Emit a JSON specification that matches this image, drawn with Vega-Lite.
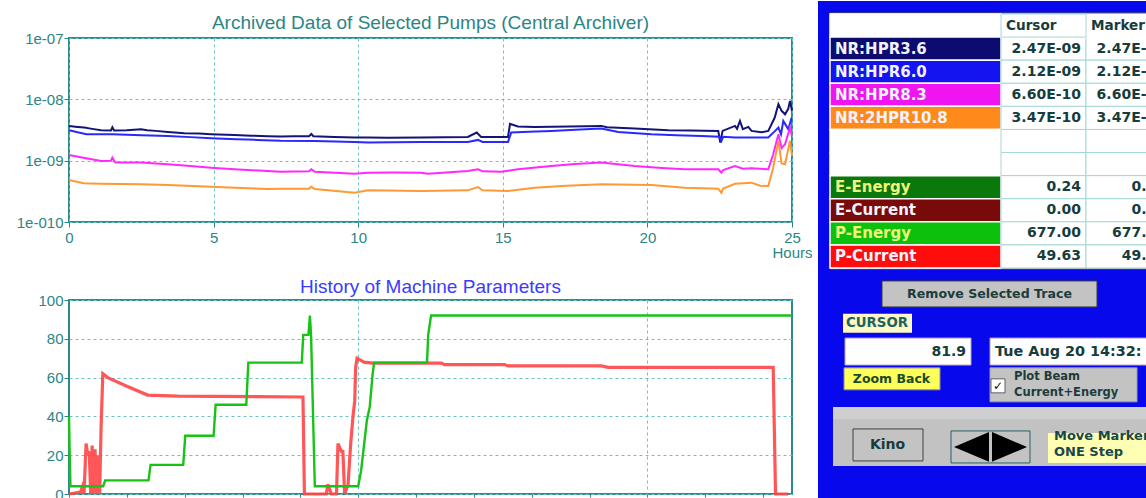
{
  "$schema": "https://vega.github.io/schema/vega-lite/v6.json",
  "padding": 0,
  "background": "#ffffff",
  "spacing": 4,
  "align": "none",
  "config": {
    "font": "Liberation Sans",
    "view": {"stroke": null},
    "axis": {"labelFont": "Liberation Sans", "labelFontSize": 15, "labelColor": "#2b8585", "tickColor": "#2b8585", "domain": false, "gridColor": "#6cc3c3", "gridDash": [3, 3], "gridWidth": 1, "labelOverlap": false, "labelSeparation": 0}
  },
  "datasets": {
    "pumps": [
      {"s":"NR:HPR3.6","h":0,"v":3.69e-9},{"s":"NR:HPR3.6","h":0.3,"v":3.55e-9},{"s":"NR:HPR3.6","h":0.53,"v":3.46e-9},{"s":"NR:HPR3.6","h":0.8,"v":3.3e-9},{"s":"NR:HPR3.6","h":1.11,"v":3.14e-9},{"s":"NR:HPR3.6","h":1.45,"v":3.1e-9},{"s":"NR:HPR3.6","h":1.5,"v":3.5e-9},{"s":"NR:HPR3.6","h":1.56,"v":3.1e-9},{"s":"NR:HPR3.6","h":2.0,"v":3.14e-9},{"s":"NR:HPR3.6","h":2.49,"v":3.26e-9},{"s":"NR:HPR3.6","h":2.7,"v":3.14e-9},{"s":"NR:HPR3.6","h":3.0,"v":3.06e-9},{"s":"NR:HPR3.6","h":3.42,"v":2.94e-9},{"s":"NR:HPR3.6","h":3.99,"v":2.8e-9},{"s":"NR:HPR3.6","h":4.5,"v":2.76e-9},{"s":"NR:HPR3.6","h":4.91,"v":2.7e-9},{"s":"NR:HPR3.6","h":5.72,"v":2.62e-9},{"s":"NR:HPR3.6","h":6.3,"v":2.56e-9},{"s":"NR:HPR3.6","h":6.88,"v":2.5e-9},{"s":"NR:HPR3.6","h":7.31,"v":2.47e-9},{"s":"NR:HPR3.6","h":7.8,"v":2.5e-9},{"s":"NR:HPR3.6","h":8.3,"v":2.5e-9},{"s":"NR:HPR3.6","h":8.38,"v":2.72e-9},{"s":"NR:HPR3.6","h":8.45,"v":2.5e-9},{"s":"NR:HPR3.6","h":9.18,"v":2.44e-9},{"s":"NR:HPR3.6","h":9.88,"v":2.38e-9},{"s":"NR:HPR3.6","h":10.34,"v":2.38e-9},{"s":"NR:HPR3.6","h":11.0,"v":2.36e-9},{"s":"NR:HPR3.6","h":12.18,"v":2.38e-9},{"s":"NR:HPR3.6","h":13.0,"v":2.4e-9},{"s":"NR:HPR3.6","h":13.79,"v":2.44e-9},{"s":"NR:HPR3.6","h":14.1,"v":2.87e-9},{"s":"NR:HPR3.6","h":14.25,"v":2.44e-9},{"s":"NR:HPR3.6","h":15.18,"v":2.44e-9},{"s":"NR:HPR3.6","h":15.25,"v":4.0e-9},{"s":"NR:HPR3.6","h":15.52,"v":3.6e-9},{"s":"NR:HPR3.6","h":16.1,"v":3.55e-9},{"s":"NR:HPR3.6","h":17.3,"v":3.6e-9},{"s":"NR:HPR3.6","h":18.41,"v":3.69e-9},{"s":"NR:HPR3.6","h":18.6,"v":3.5e-9},{"s":"NR:HPR3.6","h":19.56,"v":3.33e-9},{"s":"NR:HPR3.6","h":20.72,"v":3.14e-9},{"s":"NR:HPR3.6","h":21.5,"v":3.1e-9},{"s":"NR:HPR3.6","h":22.45,"v":3.06e-9},{"s":"NR:HPR3.6","h":22.52,"v":1.97e-9},{"s":"NR:HPR3.6","h":22.6,"v":3.06e-9},{"s":"NR:HPR3.6","h":23.03,"v":3.69e-9},{"s":"NR:HPR3.6","h":23.1,"v":3.3e-9},{"s":"NR:HPR3.6","h":23.2,"v":4.45e-9},{"s":"NR:HPR3.6","h":23.3,"v":3.26e-9},{"s":"NR:HPR3.6","h":23.49,"v":3.55e-9},{"s":"NR:HPR3.6","h":23.6,"v":3.06e-9},{"s":"NR:HPR3.6","h":23.95,"v":2.9e-9},{"s":"NR:HPR3.6","h":24.18,"v":3.06e-9},{"s":"NR:HPR3.6","h":24.4,"v":5.0e-9},{"s":"NR:HPR3.6","h":24.53,"v":8.35e-9},{"s":"NR:HPR3.6","h":24.64,"v":6.5e-9},{"s":"NR:HPR3.6","h":24.76,"v":5.7e-9},{"s":"NR:HPR3.6","h":24.87,"v":7.0e-9},{"s":"NR:HPR3.6","h":24.93,"v":9.45e-9},{"s":"NR:HPR3.6","h":25.0,"v":6.5e-9},
      {"s":"NR:HPR6.0","h":0,"v":3.14e-9},{"s":"NR:HPR6.0","h":0.3,"v":2.9e-9},{"s":"NR:HPR6.0","h":0.6,"v":2.7e-9},{"s":"NR:HPR6.0","h":1.5,"v":2.7e-9},{"s":"NR:HPR6.0","h":2.5,"v":2.6e-9},{"s":"NR:HPR6.0","h":3.42,"v":2.53e-9},{"s":"NR:HPR6.0","h":4.2,"v":2.42e-9},{"s":"NR:HPR6.0","h":4.91,"v":2.32e-9},{"s":"NR:HPR6.0","h":5.8,"v":2.24e-9},{"s":"NR:HPR6.0","h":6.5,"v":2.18e-9},{"s":"NR:HPR6.0","h":7.31,"v":2.12e-9},{"s":"NR:HPR6.0","h":8.5,"v":2.1e-9},{"s":"NR:HPR6.0","h":9.88,"v":2.02e-9},{"s":"NR:HPR6.0","h":10.34,"v":1.97e-9},{"s":"NR:HPR6.0","h":11.2,"v":2.0e-9},{"s":"NR:HPR6.0","h":12.18,"v":2.02e-9},{"s":"NR:HPR6.0","h":13.79,"v":2.02e-9},{"s":"NR:HPR6.0","h":14.14,"v":2.18e-9},{"s":"NR:HPR6.0","h":14.3,"v":2.02e-9},{"s":"NR:HPR6.0","h":15.18,"v":2.02e-9},{"s":"NR:HPR6.0","h":15.29,"v":2.87e-9},{"s":"NR:HPR6.0","h":15.9,"v":2.95e-9},{"s":"NR:HPR6.0","h":16.68,"v":3.06e-9},{"s":"NR:HPR6.0","h":17.5,"v":3.2e-9},{"s":"NR:HPR6.0","h":18.41,"v":3.33e-9},{"s":"NR:HPR6.0","h":18.99,"v":2.94e-9},{"s":"NR:HPR6.0","h":20.14,"v":2.7e-9},{"s":"NR:HPR6.0","h":21.0,"v":2.6e-9},{"s":"NR:HPR6.0","h":21.87,"v":2.53e-9},{"s":"NR:HPR6.0","h":22.5,"v":2.45e-9},{"s":"NR:HPR6.0","h":22.56,"v":2.1e-9},{"s":"NR:HPR6.0","h":22.62,"v":2.45e-9},{"s":"NR:HPR6.0","h":23.03,"v":2.38e-9},{"s":"NR:HPR6.0","h":23.6,"v":2.38e-9},{"s":"NR:HPR6.0","h":24.18,"v":2.38e-9},{"s":"NR:HPR6.0","h":24.4,"v":3.0e-9},{"s":"NR:HPR6.0","h":24.53,"v":3.46e-9},{"s":"NR:HPR6.0","h":24.62,"v":2.7e-9},{"s":"NR:HPR6.0","h":24.7,"v":4.45e-9},{"s":"NR:HPR6.0","h":24.87,"v":3.26e-9},{"s":"NR:HPR6.0","h":24.99,"v":5.05e-9},
      {"s":"NR:HPR8.3","h":0,"v":1.24e-9},{"s":"NR:HPR8.3","h":0.5,"v":1.12e-9},{"s":"NR:HPR8.3","h":1.11,"v":9.9e-10},{"s":"NR:HPR8.3","h":1.45,"v":1.0e-9},{"s":"NR:HPR8.3","h":1.5,"v":1.12e-9},{"s":"NR:HPR8.3","h":1.6,"v":9.3e-10},{"s":"NR:HPR8.3","h":2.49,"v":9.3e-10},{"s":"NR:HPR8.3","h":3.42,"v":8.73e-10},{"s":"NR:HPR8.3","h":4.2,"v":8.2e-10},{"s":"NR:HPR8.3","h":4.91,"v":7.69e-10},{"s":"NR:HPR8.3","h":5.72,"v":7.23e-10},{"s":"NR:HPR8.3","h":6.88,"v":6.79e-10},{"s":"NR:HPR8.3","h":7.31,"v":6.6e-10},{"s":"NR:HPR8.3","h":8.3,"v":6.7e-10},{"s":"NR:HPR8.3","h":8.38,"v":7.23e-10},{"s":"NR:HPR8.3","h":8.5,"v":6.6e-10},{"s":"NR:HPR8.3","h":9.88,"v":6.13e-10},{"s":"NR:HPR8.3","h":10.34,"v":6.37e-10},{"s":"NR:HPR8.3","h":11.2,"v":6.4e-10},{"s":"NR:HPR8.3","h":12.18,"v":6.37e-10},{"s":"NR:HPR8.3","h":12.41,"v":6.13e-10},{"s":"NR:HPR8.3","h":13.79,"v":6.79e-10},{"s":"NR:HPR8.3","h":14.14,"v":7.23e-10},{"s":"NR:HPR8.3","h":14.3,"v":6.7e-10},{"s":"NR:HPR8.3","h":14.95,"v":6.6e-10},{"s":"NR:HPR8.3","h":15.52,"v":7.23e-10},{"s":"NR:HPR8.3","h":16.68,"v":8.19e-10},{"s":"NR:HPR8.3","h":17.5,"v":8.8e-10},{"s":"NR:HPR8.3","h":18.41,"v":9.3e-10},{"s":"NR:HPR8.3","h":19.56,"v":8.19e-10},{"s":"NR:HPR8.3","h":20.5,"v":7.6e-10},{"s":"NR:HPR8.3","h":21.29,"v":7.23e-10},{"s":"NR:HPR8.3","h":22.45,"v":7.23e-10},{"s":"NR:HPR8.3","h":22.56,"v":6.37e-10},{"s":"NR:HPR8.3","h":22.62,"v":7.0e-10},{"s":"NR:HPR8.3","h":23.03,"v":8.19e-10},{"s":"NR:HPR8.3","h":23.3,"v":7.4e-10},{"s":"NR:HPR8.3","h":23.6,"v":7.5e-10},{"s":"NR:HPR8.3","h":24.18,"v":7.23e-10},{"s":"NR:HPR8.3","h":24.35,"v":1.27e-9},{"s":"NR:HPR8.3","h":24.53,"v":2.7e-9},{"s":"NR:HPR8.3","h":24.64,"v":1.6e-9},{"s":"NR:HPR8.3","h":24.76,"v":1.85e-9},{"s":"NR:HPR8.3","h":24.93,"v":3.46e-9},{"s":"NR:HPR8.3","h":25.0,"v":2.5e-9},
      {"s":"NR:2HPR10.8","h":0,"v":4.84e-10},{"s":"NR:2HPR10.8","h":0.5,"v":4.3e-10},{"s":"NR:2HPR10.8","h":1.11,"v":4.21e-10},{"s":"NR:2HPR10.8","h":1.8,"v":4.15e-10},{"s":"NR:2HPR10.8","h":2.5,"v":4.11e-10},{"s":"NR:2HPR10.8","h":3.42,"v":4.01e-10},{"s":"NR:2HPR10.8","h":4.91,"v":3.77e-10},{"s":"NR:2HPR10.8","h":5.72,"v":3.62e-10},{"s":"NR:2HPR10.8","h":6.88,"v":3.45e-10},{"s":"NR:2HPR10.8","h":7.31,"v":3.47e-10},{"s":"NR:2HPR10.8","h":8.3,"v":3.5e-10},{"s":"NR:2HPR10.8","h":8.38,"v":3.77e-10},{"s":"NR:2HPR10.8","h":8.5,"v":3.45e-10},{"s":"NR:2HPR10.8","h":9.88,"v":3.0e-10},{"s":"NR:2HPR10.8","h":10.34,"v":3.28e-10},{"s":"NR:2HPR10.8","h":12.18,"v":3.2e-10},{"s":"NR:2HPR10.8","h":13.79,"v":3.28e-10},{"s":"NR:2HPR10.8","h":14.14,"v":3.72e-10},{"s":"NR:2HPR10.8","h":14.3,"v":3.28e-10},{"s":"NR:2HPR10.8","h":15.18,"v":3.2e-10},{"s":"NR:2HPR10.8","h":16.1,"v":3.62e-10},{"s":"NR:2HPR10.8","h":17.2,"v":3.9e-10},{"s":"NR:2HPR10.8","h":18.41,"v":4.11e-10},{"s":"NR:2HPR10.8","h":20.14,"v":4.01e-10},{"s":"NR:2HPR10.8","h":21.29,"v":3.62e-10},{"s":"NR:2HPR10.8","h":22.45,"v":3.49e-10},{"s":"NR:2HPR10.8","h":22.56,"v":3.0e-10},{"s":"NR:2HPR10.8","h":22.62,"v":3.5e-10},{"s":"NR:2HPR10.8","h":23.03,"v":4.21e-10},{"s":"NR:2HPR10.8","h":23.6,"v":4.38e-10},{"s":"NR:2HPR10.8","h":23.9,"v":3.9e-10},{"s":"NR:2HPR10.8","h":24.18,"v":3.86e-10},{"s":"NR:2HPR10.8","h":24.35,"v":7.69e-10},{"s":"NR:2HPR10.8","h":24.53,"v":2.1e-9},{"s":"NR:2HPR10.8","h":24.64,"v":9.0e-10},{"s":"NR:2HPR10.8","h":24.76,"v":8.73e-10},{"s":"NR:2HPR10.8","h":24.93,"v":2.1e-9},{"s":"NR:2HPR10.8","h":25.0,"v":1.2e-9}
    ],
    "machine": [
      {"s":"P-Current","h":0,"v":0},{"s":"P-Current","h":0.4,"v":1},{"s":"P-Current","h":0.47,"v":4},{"s":"P-Current","h":0.52,"v":0},{"s":"P-Current","h":0.59,"v":26},{"s":"P-Current","h":0.65,"v":20},{"s":"P-Current","h":0.7,"v":22},{"s":"P-Current","h":0.75,"v":0},{"s":"P-Current","h":0.8,"v":25},{"s":"P-Current","h":0.85,"v":0},{"s":"P-Current","h":0.9,"v":23},{"s":"P-Current","h":0.95,"v":0},{"s":"P-Current","h":1.0,"v":20},{"s":"P-Current","h":1.06,"v":0},{"s":"P-Current","h":1.11,"v":35},{"s":"P-Current","h":1.17,"v":62},{"s":"P-Current","h":1.34,"v":60},{"s":"P-Current","h":2.0,"v":55.5},{"s":"P-Current","h":2.72,"v":51},{"s":"P-Current","h":3.76,"v":50.5},{"s":"P-Current","h":8.09,"v":50},{"s":"P-Current","h":8.14,"v":0},{"s":"P-Current","h":8.9,"v":0},{"s":"P-Current","h":8.95,"v":5},{"s":"P-Current","h":9.07,"v":0},{"s":"P-Current","h":9.25,"v":0},{"s":"P-Current","h":9.3,"v":26},{"s":"P-Current","h":9.42,"v":22},{"s":"P-Current","h":9.47,"v":22},{"s":"P-Current","h":9.53,"v":0},{"s":"P-Current","h":9.65,"v":5},{"s":"P-Current","h":9.74,"v":26},{"s":"P-Current","h":9.82,"v":40},{"s":"P-Current","h":9.88,"v":48},{"s":"P-Current","h":9.91,"v":65},{"s":"P-Current","h":9.96,"v":70},{"s":"P-Current","h":10.2,"v":68},{"s":"P-Current","h":10.5,"v":67.5},{"s":"P-Current","h":12.87,"v":67.5},{"s":"P-Current","h":12.99,"v":66.7},{"s":"P-Current","h":15.06,"v":66.7},{"s":"P-Current","h":15.18,"v":66},{"s":"P-Current","h":18.41,"v":66},{"s":"P-Current","h":18.64,"v":65.3},{"s":"P-Current","h":24.35,"v":65.3},{"s":"P-Current","h":24.43,"v":0},{"s":"P-Current","h":24.87,"v":0},
      {"s":"P-Energy","h":0,"v":40},{"s":"P-Energy","h":0.02,"v":23},{"s":"P-Energy","h":0.05,"v":4},{"s":"P-Energy","h":1.18,"v":4},{"s":"P-Energy","h":1.25,"v":7},{"s":"P-Energy","h":2.75,"v":7},{"s":"P-Energy","h":2.82,"v":15},{"s":"P-Energy","h":3.95,"v":15},{"s":"P-Energy","h":4.02,"v":30},{"s":"P-Energy","h":5.0,"v":30},{"s":"P-Energy","h":5.07,"v":46},{"s":"P-Energy","h":6.13,"v":46},{"s":"P-Energy","h":6.2,"v":67.7},{"s":"P-Energy","h":8.05,"v":67.7},{"s":"P-Energy","h":8.1,"v":82},{"s":"P-Energy","h":8.28,"v":82},{"s":"P-Energy","h":8.33,"v":92},{"s":"P-Energy","h":8.37,"v":82},{"s":"P-Energy","h":8.5,"v":4},{"s":"P-Energy","h":10.0,"v":4},{"s":"P-Energy","h":10.1,"v":12},{"s":"P-Energy","h":10.2,"v":25},{"s":"P-Energy","h":10.3,"v":38},{"s":"P-Energy","h":10.4,"v":45},{"s":"P-Energy","h":10.5,"v":62},{"s":"P-Energy","h":10.55,"v":67.7},{"s":"P-Energy","h":12.38,"v":67.7},{"s":"P-Energy","h":12.42,"v":82},{"s":"P-Energy","h":12.52,"v":92},{"s":"P-Energy","h":25.0,"v":92}
    ]
  },
  "hconcat": [
    {
      "spacing": 16,
      "vconcat": [
        {
          "width": 723,
          "height": 184,
          "view": {"stroke": "#2b8a8a", "strokeWidth": 2},
          "title": {"text": ["", "Archived Data of Selected Pumps (Central Archiver)"], "lineHeight": 12.7, "fontSize": 19, "font": "Liberation Sans", "fontWeight": "normal", "color": "#2b8585", "offset": -1.7, "anchor": "middle"},
          "layer": [
            {
              "data": {"name": "pumps"},
              "mark": {"type": "line", "strokeWidth": 2},
              "encoding": {
                "x": {"field": "h", "type": "quantitative", "scale": {"domain": [0, 25], "nice": false, "zero": false},
                      "axis": {"title": null, "values": [0, 5, 10, 15, 20, 25], "labelExpr": "datum.value == 25 ? ['25', 'Hours'] : datum.label", "labelLineHeight": 15, "labelFlush": false, "labelOverlap": false, "labelBound": false, "tickSize": 5, "labelPadding": 3, "grid": true}},
                "y": {"field": "v", "type": "quantitative", "scale": {"type": "log", "domain": [1e-10, 1e-7], "nice": false},
                      "axis": {"title": null, "values": [1e-7, 1e-8, 1e-9, 1e-10], "labelExpr": "datum.value > 5e-8 ? '1e-07' : datum.value > 5e-9 ? '1e-08' : datum.value > 5e-10 ? '1e-09' : '1e-010'", "labelFlush": false, "labelOverlap": false, "tickSize": 5, "labelPadding": 1, "minExtent": 68, "maxExtent": 68, "grid": true}},
                "color": {"field": "s", "type": "nominal", "scale": {"domain": ["NR:HPR3.6", "NR:HPR6.0", "NR:HPR8.3", "NR:2HPR10.8"], "range": ["#141478", "#2828ff", "#ff28ff", "#ff9933"]}, "legend": null}
              }
            },
            {"mark": {"type": "rule", "color": "#ffff30", "strokeWidth": 2}, "encoding": {"x": {"datum": 7.27, "type": "quantitative"}}},
            {"mark": {"type": "rule", "color": "#3a7cff", "strokeWidth": 2}, "encoding": {"x": {"datum": 7.34, "type": "quantitative"}}},
            {"mark": {"type": "point", "shape": "diamond", "filled": true, "color": "#ff2020", "size": 200, "opacity": 1}, "encoding": {"x": {"datum": 7.3, "type": "quantitative"}, "y": {"datum": 7.8e-8, "type": "quantitative"}}},
            {"mark": {"type": "text", "align": "left", "baseline": "alphabetic", "dx": -35, "dy": 34, "fontSize": 15, "font": "Liberation Sans", "color": "#2b8585"}, "encoding": {"x": {"datum": 0, "type": "quantitative"}, "y": {"datum": 1e-10, "type": "quantitative"}, "text": {"value": "Aug 20 07:11:28 2002"}}}
          ]
        },
        {
          "width": 723,
          "height": 194,
          "view": {"stroke": "#2b8a8a", "strokeWidth": 2},
          "title": {"text": "History of Machine Parameters", "fontSize": 19, "font": "Liberation Sans", "fontWeight": "normal", "color": "#3b3bff", "offset": -4.3, "anchor": "middle"},
          "layer": [
            {
              "data": {"name": "machine"},
              "transform": [{"filter": "datum.s == 'P-Current'"}],
              "mark": {"type": "line", "color": "#ff4545", "strokeWidth": 3.2, "opacity": 0.9},
              "encoding": {
                "x": {"field": "h", "type": "quantitative", "scale": {"domain": [0, 25], "nice": false, "zero": false},
                      "axis": {"title": null, "values": [0,1,2,3,4,5,6,7,8,9,10,11,12,13,14,15,16,17,18,19,20,21,22,23,24,25], "labels": false, "tickSize": 3, "grid": true, "gridOpacity": {"condition": {"test": "datum.value % 5 == 0 && datum.value > 0 && datum.value < 25", "value": 1}, "value": 0}}},
                "y": {"field": "v", "type": "quantitative", "scale": {"domain": [0, 100], "nice": false},
                      "axis": {"title": null, "values": [0, 20, 40, 60, 80, 100], "tickCount": 6, "labelFlush": false, "labelOverlap": false, "tickSize": 5, "labelPadding": 1, "minExtent": 68, "maxExtent": 68, "grid": true}}
              }
            },
            {
              "data": {"name": "machine"},
              "transform": [{"filter": "datum.s == 'P-Energy'"}],
              "mark": {"type": "line", "color": "#17c317", "strokeWidth": 2.4},
              "encoding": {
                "x": {"field": "h", "type": "quantitative", "axis": {"title": null, "values": [0,1,2,3,4,5,6,7,8,9,10,11,12,13,14,15,16,17,18,19,20,21,22,23,24,25], "labels": false, "tickSize": 3, "grid": true, "gridOpacity": {"condition": {"test": "datum.value % 5 == 0 && datum.value > 0 && datum.value < 25", "value": 1}, "value": 0}}},
                "y": {"field": "v", "type": "quantitative", "axis": {"title": null, "values": [0, 20, 40, 60, 80, 100], "tickCount": 6, "labelFlush": false, "labelOverlap": false, "tickSize": 5, "labelPadding": 1, "minExtent": 68, "maxExtent": 68, "grid": true}}
              }
            },
            {"mark": {"type": "rule", "color": "#3030ff", "strokeWidth": 1.5}, "encoding": {"x": {"datum": 7.3, "type": "quantitative"}}},
            {"mark": {"type": "rule", "color": "#ffff40", "strokeWidth": 1.5}, "encoding": {"x": {"datum": 7.36, "type": "quantitative"}}},
            {"mark": {"type": "rule", "color": "#3f6f6f", "strokeWidth": 2}, "encoding": {"y": {"datum": 81.9, "type": "quantitative", "axis": {"title": null, "values": [0, 20, 40, 60, 80, 100], "tickCount": 6, "labelFlush": false, "labelOverlap": false, "tickSize": 5, "labelPadding": 1, "minExtent": 68, "maxExtent": 68, "grid": true}}}}
          ]
        }
      ]
    },
    {
      "width": 328,
      "height": 461,
      "view": {"fill": "#0808ec", "stroke": null},
      "resolve": {"scale": {"x": "independent", "y": "independent", "color": "independent"}},
      "layer": [
        {
          "data": {"values": [{"k": "bg"}]},
          "mark": {"type": "rect", "fill": "#0808ec"},
          "encoding": {
            "x": {"field": "k", "type": "nominal", "scale": {"type": "band", "domain": ["bg"], "range": [0, 328], "paddingInner": 0, "paddingOuter": 0}, "axis": null},
            "y": {"field": "k", "type": "nominal", "scale": {"type": "band", "domain": ["bg"], "range": [-37, 461], "paddingInner": 0, "paddingOuter": 0}, "axis": null}
          }
        },
        {
          "data": {"values": [{"k": "table"}]},
          "mark": {"type": "rect", "fill": "#ffffff", "stroke": "#5a5a5a", "strokeWidth": 1},
          "encoding": {
            "x": {"field": "k", "type": "nominal", "scale": {"type": "band", "domain": ["table"], "range": [12, 329], "paddingInner": 0, "paddingOuter": 0}, "axis": null},
            "y": {"field": "k", "type": "nominal", "scale": {"type": "band", "domain": ["table"], "range": [-25, 231], "paddingInner": 0, "paddingOuter": 0}, "axis": null}
          }
        },
        {
          "data": {"values": [
            {"row":"hdr","label":""},{"row":"NR:HPR3.6","label":"NR:HPR3.6"},{"row":"NR:HPR6.0","label":"NR:HPR6.0"},{"row":"NR:HPR8.3","label":"NR:HPR8.3"},{"row":"NR:2HPR10.8","label":"NR:2HPR10.8"},{"row":"blank1","label":""},{"row":"blank2","label":""},{"row":"E-Energy","label":"E-Energy"},{"row":"E-Current","label":"E-Current"},{"row":"P-Energy","label":"P-Energy"},{"row":"P-Current","label":"P-Current"}
          ]},
          "encoding": {
            "x": {"datum": "Name", "type": "nominal", "scale": {"type": "band", "domain": ["Name"], "range": [12, 183], "paddingInner": 0, "paddingOuter": 0}, "axis": null},
            "y": {"field": "row", "type": "nominal", "sort": null, "scale": {"type": "band", "domain": ["hdr","NR:HPR3.6","NR:HPR6.0","NR:HPR8.3","NR:2HPR10.8","blank1","blank2","E-Energy","E-Current","P-Energy","P-Current"], "range": [-24, 230], "paddingInner": 0, "paddingOuter": 0}, "axis": null}
          },
          "layer": [
            {"mark": {"type": "rect", "stroke": "#ffffff", "strokeWidth": 1.5}, "encoding": {"color": {"field": "row", "type": "nominal", "scale": {"domain": ["hdr","NR:HPR3.6","NR:HPR6.0","NR:HPR8.3","NR:2HPR10.8","blank1","blank2","E-Energy","E-Current","P-Energy","P-Current"], "range": ["#ffffff","#0c0c70","#1414f0","#f014f0","#ff8a1c","#ffffff","#ffffff","#0a780a","#780a0a","#0cc00c","#ff0c0c"]}, "legend": null}}},
            {"mark": {"type": "text", "align": "left", "baseline": "middle", "dx": 5, "font": "DejaVu Sans", "fontWeight": "bold", "fontSize": 15},
             "encoding": {"x": {"datum": "Name", "type": "nominal", "bandPosition": 0}, "text": {"field": "label"}, "fill": {"condition": {"test": "indexof(datum.row, 'Energy') >= 0", "value": "#eef57a"}, "value": "#f2f2ff"}}}
          ]
        },
        {
          "data": {"values": [
            {"row":"hdr","col":"Cursor","text":"Cursor"},{"row":"hdr","col":"Marker","text":"Marker"},
            {"row":"NR:HPR3.6","col":"Cursor","text":"2.47E-09"},{"row":"NR:HPR3.6","col":"Marker","text":"2.47E-09"},
            {"row":"NR:HPR6.0","col":"Cursor","text":"2.12E-09"},{"row":"NR:HPR6.0","col":"Marker","text":"2.12E-09"},
            {"row":"NR:HPR8.3","col":"Cursor","text":"6.60E-10"},{"row":"NR:HPR8.3","col":"Marker","text":"6.60E-10"},
            {"row":"NR:2HPR10.8","col":"Cursor","text":"3.47E-10"},{"row":"NR:2HPR10.8","col":"Marker","text":"3.47E-10"},
            {"row":"blank1","col":"Cursor","text":""},{"row":"blank1","col":"Marker","text":""},
            {"row":"blank2","col":"Cursor","text":""},{"row":"blank2","col":"Marker","text":""},
            {"row":"E-Energy","col":"Cursor","text":"0.24"},{"row":"E-Energy","col":"Marker","text":"0.24"},
            {"row":"E-Current","col":"Cursor","text":"0.00"},{"row":"E-Current","col":"Marker","text":"0.00"},
            {"row":"P-Energy","col":"Cursor","text":"677.00"},{"row":"P-Energy","col":"Marker","text":"677.00"},
            {"row":"P-Current","col":"Cursor","text":"49.63"},{"row":"P-Current","col":"Marker","text":"49.63"}
          ]},
          "encoding": {
            "x": {"field": "col", "type": "nominal", "scale": {"type": "band", "domain": ["Cursor", "Marker"], "range": [183, 353], "paddingInner": 0, "paddingOuter": 0}, "axis": null},
            "y": {"field": "row", "type": "nominal", "scale": {"type": "band", "domain": ["hdr","NR:HPR3.6","NR:HPR6.0","NR:HPR8.3","NR:2HPR10.8","blank1","blank2","E-Energy","E-Current","P-Energy","P-Current"], "range": [-24, 230], "paddingInner": 0, "paddingOuter": 0}, "axis": null}
          },
          "layer": [
            {"transform": [{"filter": "datum.row != 'hdr'"}], "mark": {"type": "rect", "fill": "#ffffff", "stroke": "#a6d6d6", "strokeWidth": 1, "clip": true}},
            {"transform": [{"filter": "datum.row == 'hdr' && datum.col == 'Cursor'"}], "mark": {"type": "rect", "fill": "#ffffff", "stroke": "#a6d6d6", "strokeWidth": 1}},
            {"transform": [{"filter": "datum.row != 'hdr'"}], "mark": {"type": "text", "align": "right", "baseline": "middle", "dx": -5, "font": "DejaVu Sans", "fontWeight": "bold", "fontSize": 14, "fill": "#163c3c", "clip": true},
             "encoding": {"x": {"field": "col", "type": "nominal", "bandPosition": 1}, "text": {"field": "text"}}},
            {"transform": [{"filter": "datum.row == 'hdr'"}], "mark": {"type": "text", "align": "left", "baseline": "middle", "dx": 5, "font": "DejaVu Sans", "fontWeight": "bold", "fontSize": 13.6, "fill": "#163c3c"},
             "encoding": {"x": {"field": "col", "type": "nominal", "bandPosition": 0}, "text": {"field": "text"}}}
          ]
        },
        {
          "data": {"values": [
            {"id":"remove","row":"remove","col":"panel","label":"Remove Selected Trace"},
            {"id":"cursor","row":"cursor","col":"panel","label":"CURSOR"},
            {"id":"val","row":"fields","col":"panel","label":"81.9"},
            {"id":"time","row":"fields","col":"panel","label":"Tue Aug 20 14:32:"},
            {"id":"zoom","row":"zoom","col":"panel","label":"Zoom Back"},
            {"id":"beam","row":"zoom","col":"panel","label":["Plot Beam","Current+Energy"]},
            {"id":"check","row":"zoom","col":"panel","label":"✓"},
            {"id":"bar","row":"bar","col":"panel","label":""},
            {"id":"kino","row":"bar","col":"panel","label":"Kino"},
            {"id":"arrows","row":"bar","col":"panel","label":""},
            {"id":"move","row":"bar","col":"panel","label":["Move Marker"," ONE Step"]}
          ]},
          "encoding": {
            "x": {"field": "col", "type": "nominal", "scale": {"type": "band", "domain": ["panel"], "range": [0, 328], "paddingInner": 0, "paddingOuter": 0}, "axis": null},
            "y": {"field": "row", "type": "nominal", "scale": {"type": "band", "domain": ["g0","remove","cursor","fields","zoom","g5","bar","g7","g8"], "range": [213.5, 468.2], "paddingInner": 0, "paddingOuter": 0}, "axis": null}
          },
          "layer": [
            {"transform": [{"filter": "datum.id == 'bar'"}], "mark": {"type": "rect", "width": 325, "height": 59, "xOffset": 13.5, "yOffset": 1, "fill": "#c2c2c2", "clip": true}},
            {"transform": [{"filter": "datum.id == 'bar'"}], "mark": {"type": "rect", "width": 325, "height": 12, "xOffset": 13.5, "yOffset": -22.5, "fill": "#cfcfcf", "clip": true}},
            {"transform": [{"filter": "datum.id == 'remove'"}], "mark": {"type": "rect", "width": 215, "height": 26, "xOffset": 7.5, "fill": "#c3c3c3", "stroke": "#3a3a3a", "strokeWidth": 1}},
            {"transform": [{"filter": "datum.id == 'remove'"}], "mark": {"type": "text", "xOffset": 7.5, "baseline": "middle", "font": "DejaVu Sans", "fontWeight": "bold", "fontSize": 12.6, "fill": "#1c3c3c"}, "encoding": {"text": {"field": "label"}}},
            {"transform": [{"filter": "datum.id == 'cursor'"}], "mark": {"type": "rect", "width": 69, "height": 19, "xOffset": -104.5, "yOffset": 1, "fill": "#fff8c4"}},
            {"transform": [{"filter": "datum.id == 'cursor'"}], "mark": {"type": "text", "xOffset": -105, "yOffset": 1, "baseline": "middle", "font": "DejaVu Sans", "fontWeight": "bold", "fontSize": 13.3, "fill": "#1a6464"}, "encoding": {"text": {"field": "label"}}},
            {"transform": [{"filter": "datum.id == 'val'"}], "mark": {"type": "rect", "width": 126, "height": 27, "xOffset": -74, "yOffset": 1, "fill": "#ffffff", "stroke": "#b89cc8", "strokeWidth": 1}},
            {"transform": [{"filter": "datum.id == 'val'"}], "mark": {"type": "text", "align": "right", "xOffset": -16, "yOffset": 1, "baseline": "middle", "font": "DejaVu Sans", "fontWeight": "bold", "fontSize": 14, "fill": "#163c3c"}, "encoding": {"text": {"field": "label"}}},
            {"transform": [{"filter": "datum.id == 'time'"}], "mark": {"type": "rect", "width": 168, "height": 27, "xOffset": 92, "yOffset": 1, "fill": "#ffffff", "stroke": "#b89cc8", "strokeWidth": 1, "clip": true}},
            {"transform": [{"filter": "datum.id == 'time'"}], "mark": {"type": "text", "align": "left", "xOffset": 13, "yOffset": 1, "baseline": "middle", "font": "DejaVu Sans", "fontWeight": "bold", "fontSize": 14.4, "fill": "#163c3c", "clip": true}, "encoding": {"text": {"field": "label"}}},
            {"transform": [{"filter": "datum.id == 'zoom'"}], "mark": {"type": "rect", "width": 96, "height": 22, "xOffset": -90, "fill": "#ffff5a", "stroke": "#8a8aa0", "strokeWidth": 1}},
            {"transform": [{"filter": "datum.id == 'zoom'"}], "mark": {"type": "text", "xOffset": -90.5, "baseline": "middle", "font": "DejaVu Sans", "fontWeight": "bold", "fontSize": 12.5, "fill": "#1a4a2a"}, "encoding": {"text": {"field": "label"}}},
            {"transform": [{"filter": "datum.id == 'beam'"}], "mark": {"type": "rect", "width": 147, "height": 34, "xOffset": 81.5, "yOffset": 6, "fill": "#c3c3c3", "stroke": "#9a9ab4", "strokeWidth": 1}},
            {"transform": [{"filter": "datum.id == 'beam'"}], "mark": {"type": "text", "align": "left", "xOffset": 32, "yOffset": -2, "baseline": "middle", "lineHeight": 16, "font": "DejaVu Sans", "fontWeight": "bold", "fontSize": 11.5, "fill": "#1c3c3c"}, "encoding": {"text": {"field": "label"}}},
            {"transform": [{"filter": "datum.id == 'check'"}], "mark": {"type": "rect", "width": 14, "height": 14, "xOffset": 16, "yOffset": 7, "fill": "#ffffff", "stroke": "#606060", "strokeWidth": 1}},
            {"transform": [{"filter": "datum.id == 'check'"}], "mark": {"type": "text", "xOffset": 16, "yOffset": 7, "baseline": "middle", "font": "DejaVu Sans", "fontWeight": "bold", "fontSize": 12, "fill": "#101010"}, "encoding": {"text": {"field": "label"}}},
            {"transform": [{"filter": "datum.id == 'kino'"}], "mark": {"type": "rect", "width": 70, "height": 32, "xOffset": -94, "yOffset": 9.5, "fill": "#c3c3c3", "stroke": "#404040", "strokeWidth": 1}},
            {"transform": [{"filter": "datum.id == 'kino'"}], "mark": {"type": "text", "xOffset": -94.5, "yOffset": 9.5, "baseline": "middle", "font": "DejaVu Sans", "fontWeight": "bold", "fontSize": 14, "fill": "#163c3c"}, "encoding": {"text": {"field": "label"}}},
            {"transform": [{"filter": "datum.id == 'arrows'"}], "mark": {"type": "rect", "width": 79, "height": 32, "xOffset": 8.5, "yOffset": 11.5, "fill": "#c3c3c3", "stroke": "#2a6060", "strokeWidth": 1}},
            {"transform": [{"filter": "datum.id == 'arrows'"}], "mark": {"type": "point", "shape": "M-1,0L1,-0.85L1,0.85Z", "size": 1225, "filled": true, "color": "#000000", "opacity": 1, "xOffset": -10.5, "yOffset": 11.5}},
            {"transform": [{"filter": "datum.id == 'arrows'"}], "mark": {"type": "point", "shape": "M1,0L-1,-0.85L-1,0.85Z", "size": 1225, "filled": true, "color": "#000000", "opacity": 1, "xOffset": 27.5, "yOffset": 11.5}},
            {"transform": [{"filter": "datum.id == 'move'"}], "mark": {"type": "rect", "width": 110, "height": 30, "xOffset": 121, "yOffset": 12.5, "fill": "#ffffb4", "clip": true}},
            {"transform": [{"filter": "datum.id == 'move'"}], "mark": {"type": "text", "align": "left", "xOffset": 72, "yOffset": 1, "baseline": "middle", "lineHeight": 16, "font": "DejaVu Sans", "fontWeight": "bold", "fontSize": 13, "fill": "#184848", "clip": true}, "encoding": {"text": {"field": "label"}}}
          ]
        }
      ]
    }
  ]
}
